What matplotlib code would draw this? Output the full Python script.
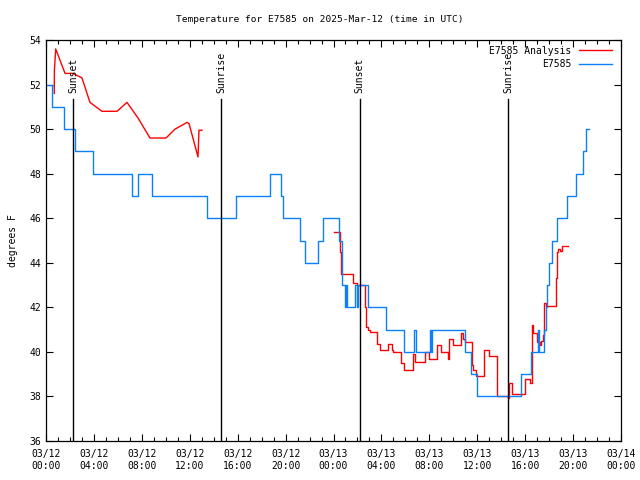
import matplotlib
matplotlib.use("Agg")
import matplotlib.pyplot as plt
from matplotlib.ticker import MultipleLocator, FixedLocator
import matplotlib.transforms as mtransforms

# hours since 03/12 00:00 UTC
station_hours = [0.1, 0.5, 1.5, 2.46, 3.96, 7.18, 7.64, 8.89, 13.44, 15.86, 18.7, 19.6, 19.8,
                 21.2, 21.6, 22.7, 23.1, 24.5, 24.7, 24.96, 25.08, 25.15, 25.8, 25.96, 26.04,
                 26.88, 28.38, 29.9, 30.76, 30.85, 32.05, 32.14, 32.2, 34.97, 35.5, 36.0,
                 39.65, 40.5, 41.07, 41.15, 41.57, 41.74, 41.82, 41.99, 42.24, 42.65, 43.49,
                 44.24, 44.82, 45.07, 45.3]
station_temp = [52, 51, 50, 49, 48, 47, 48, 47, 46, 47, 48, 47, 46,
                45, 44, 45, 46, 45, 43, 42, 43, 42, 43, 42, 43,
                42, 41, 40, 41, 40, 41, 40, 41, 40, 39, 38,
                39, 40, 41, 40, 41, 42, 43, 44, 45, 46, 47,
                48, 49, 50, 50]

analysis_hours_a = [0.69, 0.70, 0.81, 1.59, 2.25, 3.0, 3.67, 4.67, 5.93, 6.76, 7.68, 8.68,
                    10.02, 10.77, 11.77, 11.94, 12.69, 12.77, 13.02]
analysis_temp_a = [51.6, 52.6, 53.6, 52.5, 52.5, 52.3, 51.2, 50.8, 50.8, 51.2, 50.5, 49.6,
                   49.6, 50.0, 50.3, 50.25, 48.75, 49.95, 49.95]

analysis_hours_b = [24.04, 24.54, 24.62, 25.63, 25.96, 26.63, 26.71, 26.88, 27.05, 27.63,
                    27.88, 28.55, 28.88, 28.96, 29.63, 29.88, 30.63, 30.8, 31.64, 31.97,
                    32.64, 32.97, 33.56, 33.64, 33.97, 34.64, 34.81, 34.97, 35.56, 35.64,
                    35.89, 36.56, 36.98, 37.65, 38.56, 38.65, 38.9, 39.98, 40.4, 40.57,
                    40.65, 40.98, 41.24, 41.32, 41.49, 41.57, 41.74, 42.57, 42.65, 42.74,
                    42.9, 43.07, 43.57]
analysis_temp_b = [45.4, 44.5, 43.5, 43.1, 43.0, 42.0, 41.1, 41.0, 40.9, 40.35,
                   40.1, 40.35, 40.1, 40.0, 39.5, 39.2, 39.9, 39.55, 40.0, 39.7,
                   40.3, 40.0, 39.7, 40.6, 40.3, 40.85, 40.6, 40.45, 39.4, 39.2,
                   38.9, 40.1, 39.8, 38.0, 37.95, 38.6, 38.1, 38.8, 38.6, 41.2,
                   40.85, 40.45, 40.3, 40.5, 40.75, 42.2, 42.05, 43.3, 44.5, 44.6,
                   44.55, 44.75, 44.75]

sun_hours = [2.25, 14.6, 26.2, 38.56]
sun_labels = ["Sunset", "Sunrise", "Sunset", "Sunrise"]

tick_hours = list(range(0, 49, 4))
tick_labels = ["03/12\n00:00", "03/12\n04:00", "03/12\n08:00", "03/12\n12:00", "03/12\n16:00",
               "03/12\n20:00", "03/13\n00:00", "03/13\n04:00", "03/13\n08:00", "03/13\n12:00",
               "03/13\n16:00", "03/13\n20:00", "03/14\n00:00"]

plt.rcParams['font.family'] = ['DejaVu Sans Mono']
plt.rcParams['font.size'] = 7

fig = plt.figure(figsize=(6.4, 4.8), dpi=100)
ax = fig.add_axes([46/640, 39/480, 575/640, 401/480])

red = '#ff0000'
blue = '#0a80ff'

ax.plot(analysis_hours_a, analysis_temp_a, color=red, lw=1.0, label='E7585 Analysis')
ax.plot(analysis_hours_b, analysis_temp_b, color=red, lw=1.0, drawstyle='steps-post')
ax.plot(station_hours, station_temp, color=blue, lw=1.0, drawstyle='steps-post', label='E7585')

trans = mtransforms.blended_transform_factory(ax.transData, ax.transAxes)
for h, lab in zip(sun_hours, sun_labels):
    ax.plot([h, h], [0, 0.853], color='black', lw=1.0, transform=trans)
    ax.text(h, 0.868, lab, rotation=90, ha='center', va='bottom', transform=trans, fontsize=7)

ax.set_xlim(0, 48)
ax.set_ylim(36, 54)
ax.xaxis.set_major_locator(FixedLocator(tick_hours))
ax.set_xticklabels(tick_labels)
ax.xaxis.set_minor_locator(MultipleLocator(1))
ax.yaxis.set_major_locator(MultipleLocator(2))
ax.tick_params(which='both', direction='in', top=True, right=True, labelsize=7)
ax.tick_params(which='major', length=5, width=0.8)
ax.tick_params(which='minor', length=3, width=0.8)
ax.tick_params(axis='x', pad=6)
for s in ax.spines.values():
    s.set_linewidth(0.9)

ax.set_ylabel('degrees F', fontsize=7, labelpad=8)
fig.text(0.5, 1 - 20/480, 'Temperature for E7585 on 2025-Mar-12 (time in UTC)',
         ha='center', va='center', fontsize=6.8)

leg = ax.legend(loc='upper right', frameon=False, fontsize=7, handlelength=3.4,
                markerfirst=False, borderaxespad=0.2, labelspacing=0.35,
                bbox_to_anchor=(0.995, 1.0))

fig.savefig('out.png', dpi=100)
